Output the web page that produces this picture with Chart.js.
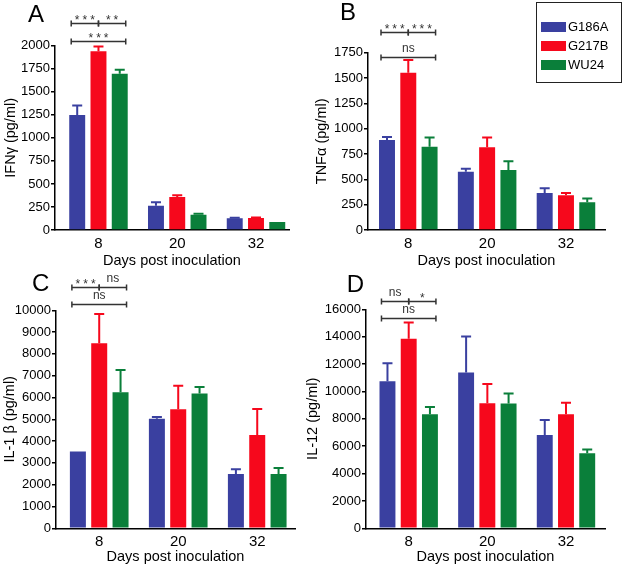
<!DOCTYPE html>
<html>
<head>
<meta charset="utf-8">
<script src="https://cdn.jsdelivr.net/npm/chart.js@4.4.0/dist/chart.umd.min.js"></script>
<style>
    body { margin: 0; background: #fff; }
    #wrap { position: relative; width: 625px; height: 570px; overflow: hidden; }
    canvas { position: absolute; }
</style>
</head>
<body>
<div id="wrap">
    <canvas id="panelA" width="300" height="272" style="left:0;top:0"></canvas>
    <canvas id="panelB" width="325" height="272" style="left:300px;top:0"></canvas>
    <canvas id="panelC" width="300" height="298" style="left:0;top:272px"></canvas>
    <canvas id="panelD" width="325" height="298" style="left:300px;top:272px"></canvas>
</div>
<script>
const days = ['8', '20', '32'];
const strains = ['G186A', 'G217B', 'WU24'];

// rows = strains, columns = days; errors are the upper SEM
const ifnMeans = [[1248, 262, 127], [1940, 358, 130], [1695, 166, 87]];
const ifnErrors = [[102, 38, 7], [50, 18, 7], [45, 11, 0]];

const tnfMeans = [[888, 576, 365], [1553, 816, 342], [822, 592, 273]];
const tnfErrors = [[30, 29, 46], [125, 98, 23], [92, 86, 39]];

const il1Means = [[3520, 5030, 2490], [8490, 5460, 4280], [6240, 6180, 2490]];
const il1Errors = [[0, 80, 220], [1340, 1080, 1190], [1020, 300, 280]];

const il12Means = [[10740, 11380, 6820], [13840, 9140, 8330], [8330, 9110, 5480]];
const il12Errors = [[1320, 2630, 1100], [1190, 1410, 850], [540, 730, 270]];

// significance at day 8: [from strain, to strain, bracket level (axis units), label]
const ifnSig = [[0, 1, 2250, '***'], [1, 2, 2250, '**'], [0, 2, 2050, '***']];
const tnfSig = [[0, 1, 1950, '***'], [1, 2, 1950, '***'], [0, 2, 1710, 'ns']];
const il1Sig = [[0, 1, 11050, '***'], [1, 2, 11050, 'ns'], [0, 2, 10280, 'ns']];
const il12Sig = [[0, 1, 16570, 'ns'], [1, 2, 16570, '*'], [0, 2, 15390, 'ns']];

const barColors = ['#3A40A0', '#F6081C', '#0A7F3A'];
const FONT = "'Liberation Sans', Arial, sans-serif";

const makePanel = (id, cfg) => {
    const ctx = document.getElementById(id).getContext('2d');

    const decor = {
        id: 'decor',
        afterDatasetsDraw(chart) {
            const { ctx, scales: { y } } = chart;
            chart.data.datasets.forEach((ds, i) => {
                const meta = chart.getDatasetMeta(i);
                meta.data.forEach((bar, j) => {
                    const sem = ds.errors[j];
                    if (!sem) return;
                    const top = y.getPixelForValue(ds.data[j].y + sem);
                    ctx.save();
                    ctx.strokeStyle = ds.backgroundColor;
                    ctx.lineWidth = 2;
                    ctx.beginPath();
                    ctx.moveTo(bar.x, bar.y);
                    ctx.lineTo(bar.x, top);
                    ctx.moveTo(bar.x - 5, top);
                    ctx.lineTo(bar.x + 5, top);
                    ctx.stroke();
                    ctx.restore();
                });
            });
        },
        afterDraw(chart) {
            const { ctx, scales: { y } } = chart;
            ctx.save();
            // panel letter
            ctx.fillStyle = '#000';
            ctx.font = `24px ${FONT}`;
            ctx.textAlign = 'left';
            ctx.textBaseline = 'alphabetic';
            ctx.fillText(cfg.letter, cfg.letterX, cfg.letterY);

            // significance brackets over day 8
            const barX = k => chart.getDatasetMeta(k).data[0].x + (k - 1) * 6;
            ctx.strokeStyle = '#333';
            ctx.fillStyle = '#333';
            ctx.lineWidth = 1.5;
            ctx.font = `12px ${FONT}`;
            ctx.textAlign = 'center';
            ctx.textBaseline = 'alphabetic';
            cfg.sig.forEach(([from, to, level, label]) => {
                const x1 = barX(from);
                const x2 = barX(to);
                const yy = Math.round(y.getPixelForValue(level)) + 0.5;
                ctx.beginPath();
                ctx.moveTo(x1, yy);
                ctx.lineTo(x2, yy);
                ctx.moveTo(x1, yy - 3);
                ctx.lineTo(x1, yy + 3);
                ctx.moveTo(x2, yy - 3);
                ctx.lineTo(x2, yy + 3);
                ctx.stroke();
                const stars = label.includes('*');
                ctx.letterSpacing = stars ? '3px' : '0px';
                ctx.fillText(label, (x1 + x2) / 2 + (stars ? 1.5 : 0), stars ? yy + 0.5 : yy - 6);
            });
            ctx.letterSpacing = '0px';

            // legend box (panel B only)
            if (cfg.legend) {
                const lg = cfg.legend;
                ctx.strokeStyle = '#222';
                ctx.lineWidth = 1;
                ctx.strokeRect(lg.x + 0.5, lg.y + 0.5, lg.w, lg.h);
                ctx.font = `13px ${FONT}`;
                ctx.textAlign = 'left';
                ctx.textBaseline = 'middle';
                chart.data.datasets.forEach((ds, i) => {
                    const rowY = lg.y + 20 + i * 19;
                    ctx.fillStyle = ds.backgroundColor;
                    ctx.fillRect(lg.x + 5, rowY, 25, 10);
                    ctx.fillStyle = '#000';
                    ctx.fillText(ds.label, lg.x + 32, rowY + 5.5);
                });
            }
            ctx.restore();
        }
    };

    return new Chart(ctx, {
        type: 'bar',
        data: {
            datasets: strains.map((s, i) => ({
                label: s,
                data: cfg.means[i].map((v, j) => ({ x: j, y: v })),
                errors: cfg.errors[i],
                backgroundColor: barColors[i],
                borderWidth: 0,
                categoryPercentage: 0.81,
                barPercentage: 0.75
            }))
        },
        options: {
            responsive: false,
            animation: false,
            layout: {
                padding: { left: 0, right: cfg.padRight, top: cfg.padTop, bottom: 0 }
            },
            scales: {
                x: {
                    type: 'linear',
                    min: cfg.xMin,
                    max: cfg.xMax,
                    offset: false,
                    bounds: 'data',
                    afterBuildTicks: axis => {
                        axis.ticks = days.map((d, i) => ({ value: i }));
                    },
                    afterFit: axis => {
                        axis.height = cfg.xHeight;
                    },
                    ticks: {
                        callback: v => days[v],
                        autoSkip: false,
                        maxRotation: 0,
                        padding: 5,
                        color: '#000',
                        font: { family: FONT, size: 15 }
                    },
                    grid: { display: false, drawTicks: false, offset: false },
                    border: { color: '#000', width: 1.5 },
                    title: {
                        display: true,
                        text: 'Days post inoculation',
                        color: '#000',
                        font: { family: FONT, size: 14.5 },
                        padding: { top: 0, bottom: cfg.xTitlePad }
                    }
                },
                y: {
                    min: 0,
                    max: cfg.yMax,
                    afterFit: axis => {
                        axis.width = cfg.yWidth;
                    },
                    ticks: {
                        stepSize: cfg.yStep,
                        callback: v => String(v),
                        padding: 1,
                        color: '#000',
                        font: { family: FONT, size: 13 }
                    },
                    grid: {
                        drawOnChartArea: false,
                        tickLength: 4,
                        color: '#000',
                        lineWidth: 1.5
                    },
                    border: { color: '#000', width: 1.5 },
                    title: {
                        display: true,
                        text: cfg.yTitle,
                        color: '#000',
                        font: { family: FONT, size: 14.5 },
                        padding: { top: cfg.yTitlePad, bottom: 0 }
                    }
                }
            },
            plugins: {
                legend: { display: false },
                tooltip: { enabled: false }
            }
        },
        plugins: [decor]
    });
};

makePanel('panelA', {
    means: ifnMeans, errors: ifnErrors, sig: ifnSig,
    yTitle: 'IFNγ (pg/ml)', yMax: 2000, yStep: 250,
    padTop: 45.7, padRight: 11, yWidth: 55, xHeight: 42,
    xMin: -0.552, xMax: 2.419, yTitlePad: 2.3, xTitlePad: 2.5,
    letter: 'A', letterX: 28, letterY: 22
});

makePanel('panelB', {
    means: tnfMeans, errors: tnfErrors, sig: tnfSig,
    yTitle: 'TNFα (pg/ml)', yMax: 1750, yStep: 250,
    padTop: 52.7, padRight: 20, yWidth: 68, xHeight: 42,
    xMin: -0.511, xMax: 2.495, yTitlePad: 13, xTitlePad: 2.5,
    letter: 'B', letterX: 40, letterY: 20,
    legend: { x: 236, y: 2, w: 85, h: 80 }
});

makePanel('panelC', {
    means: il1Means, errors: il1Errors, sig: il1Sig,
    yTitle: 'IL-1 β (pg/ml)', yMax: 10000, yStep: 1000,
    padTop: 38.3, padRight: 5, yWidth: 56, xHeight: 41.7,
    xMin: -0.547, xMax: 2.478, yTitlePad: 1.3, xTitlePad: 4,
    letter: 'C', letterX: 32, letterY: 19
});

makePanel('panelD', {
    means: il12Means, errors: il12Errors, sig: il12Sig,
    yTitle: 'IL-12 (pg/ml)', yMax: 16000, yStep: 2000,
    padTop: 37.3, padRight: 20, yWidth: 66, xHeight: 41.7,
    xMin: -0.543, xMax: 2.496, yTitlePad: 4.3, xTitlePad: 4,
    letter: 'D', letterX: 46.7, letterY: 19.7
});
</script>
</body>
</html>
